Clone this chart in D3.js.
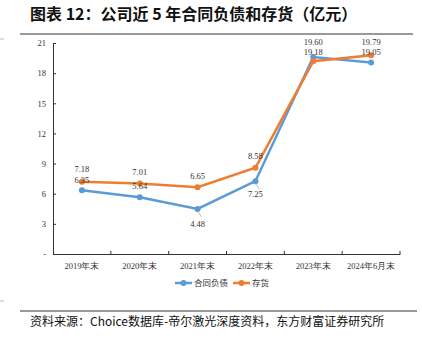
<!DOCTYPE html>
<html><head><meta charset="utf-8">
<script src="https://cdn.jsdelivr.net/npm/d3@7"></script>
<style>body{margin:0;background:#fff}svg{display:block}</style>
</head><body>
<script>
const categories = ["2019年末","2020年末","2021年末","2022年末","2023年末","2024年6月末"];
const contractLiab = [6.35, 5.64, 4.48, 7.25, 19.60, 19.05];
const inventory = [7.18, 7.01, 6.65, 8.58, 19.18, 19.79];
const yTicks = [0,3,6,9,12,15,18,21];
const seriesNames = ["合同负债","存货"];
const colors = ["#5B9BD5","#ED7D31"];
// label placement: offset in px (negative = above)
const liabLabelDy = [-10, -11, 15, 13, -15, -10.5];
const invLabelDy = [-12.5, -11.5, -11, -12, -9, -13];

const W=422,H=338;
const svg=d3.select("body").append("svg").attr("width",W).attr("height",H);
const serif="'Liberation Serif','Times New Roman',serif";
const cjk="'Noto Sans CJK SC',sans-serif";

svg.append("text").attr("x",30).attr("y",20).attr("font-family",cjk).attr("font-weight","bold")
  .attr("font-size",16).attr("fill","#111").text("图表 12：公司近 5 年合同负债和存货（亿元）");
svg.append("line").attr("x1",20).attr("x2",413).attr("y1",34).attr("y2",34).attr("stroke","#999").attr("stroke-width",2);
svg.append("line").attr("x1",0).attr("x2",4).attr("y1",39).attr("y2",39).attr("stroke","#bbb");

const x=d3.scaleBand().domain(categories).range([53,400]);
const y=d3.scaleLinear().domain([0,21]).range([254,43]);

const gy=svg.append("g").attr("transform","translate(53,0)")
  .call(d3.axisLeft(y).tickValues(yTicks).tickSize(-3).tickPadding(7).tickFormat(d=>d===0?"-":d));
gy.select(".domain").attr("stroke","#333");
gy.selectAll(".tick line").attr("stroke","#333");
gy.selectAll("text").attr("font-family",serif).attr("font-size",8.5).attr("fill","#333");

const gx=svg.append("g").attr("transform","translate(0,254)")
  .call(d3.axisBottom(x).tickSize(0).tickPadding(9));
gx.select(".domain").attr("stroke","#333");
gx.selectAll("text").attr("font-family",serif).attr("font-size",8.5).attr("fill","#333");
// boundary ticks
const bounds=categories.map(c=>x(c)).concat([x.range()[1]]).slice(1);
gx.selectAll(".bt").data(bounds).enter().append("line")
  .attr("x1",d=>d).attr("x2",d=>d).attr("y1",0).attr("y2",-3).attr("stroke","#333");

const cx=c=>x(c)+x.bandwidth()/2;
const line=d3.line().x((d,i)=>cx(categories[i])).y(d=>y(d));
[contractLiab,inventory].forEach((s,k)=>{
  svg.append("path").datum(s).attr("d",line).attr("fill","none").attr("stroke",colors[k]).attr("stroke-width",2.5);
  svg.selectAll(".p"+k).data(s).enter().append("circle")
    .attr("cx",(d,i)=>cx(categories[i])).attr("cy",d=>y(d)).attr("r",3).attr("fill",colors[k]);
});
// leader lines for below labels
contractLiab.forEach((v,i)=>{
  if(liabLabelDy[i]>10){
    svg.append("line").attr("x1",cx(categories[i])).attr("y1",y(v)+2)
      .attr("x2",cx(categories[i])+4).attr("y2",y(v)+8).attr("stroke","#aaa").attr("stroke-width",0.8);
  }
});
[[contractLiab,liabLabelDy],[inventory,invLabelDy]].forEach(([s,dy])=>{
  svg.selectAll(null).data(s).enter().append("text")
    .attr("x",(d,i)=>cx(categories[i])).attr("y",(d,i)=>y(d)+dy[i]+3)
    .attr("text-anchor","middle").attr("font-family",serif).attr("font-size",8.5).attr("fill","#333")
    .text(d=>d.toFixed(2));
});

// legend
const lg=svg.append("g").attr("transform","translate(0,283)");
[[175,0],[233,1]].forEach(([lx,k])=>{
  lg.append("line").attr("x1",lx).attr("x2",lx+17).attr("y1",0).attr("y2",0).attr("stroke",colors[k]).attr("stroke-width",2.5);
  lg.append("circle").attr("cx",lx+8.5).attr("cy",0).attr("r",3).attr("fill",colors[k]);
  lg.append("text").attr("x",lx+19).attr("y",3).attr("font-family",cjk).attr("font-size",8.5).attr("fill","#333").text(seriesNames[k]);
});

svg.append("line").attr("x1",0).attr("x2",4).attr("y1",301).attr("y2",301).attr("stroke","#bbb");
svg.append("line").attr("x1",20).attr("x2",417).attr("y1",311).attr("y2",311).attr("stroke","#333").attr("stroke-width",1);
svg.append("text").attr("x",30).attr("y",326).attr("font-family",cjk).attr("font-size",12).attr("fill","#111")
  .text("资料来源：Choice数据库-帝尔激光深度资料，东方财富证券研究所");
</script>
</body></html>
